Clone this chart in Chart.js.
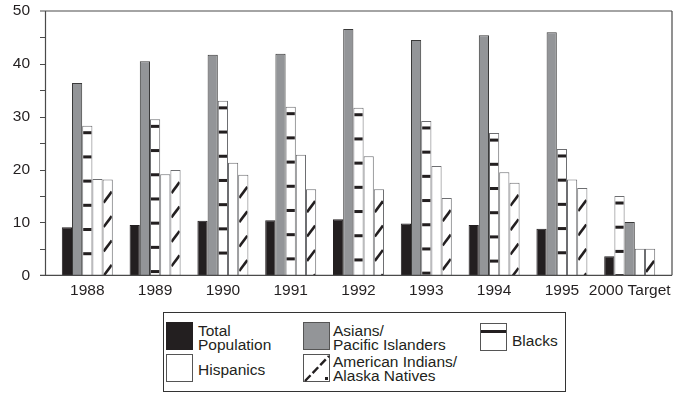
<!DOCTYPE html>
<html><head><meta charset="utf-8">
<script src="https://cdn.jsdelivr.net/npm/chart.js@4"></script>
<style>
html,body{margin:0;padding:0;background:#fff;}
#wrap{position:relative;width:684px;height:394px;overflow:hidden;}
#c{position:absolute;left:0;top:0;}
#legend{position:absolute;left:163px;top:312px;width:401px;height:78px;border:1px solid #333;background:#fff;font-family:"Liberation Sans",Arial,sans-serif;font-size:15.5px;color:#231f20;line-height:14px;}
.sw{position:absolute;width:27px;height:28px;box-sizing:border-box;border:1px solid #444;}
.lab{position:absolute;white-space:nowrap;}
</style></head>
<body>
<div id="wrap">
<canvas id="c" width="684" height="394"></canvas>
<div id="legend"></div>
</div>
<script>
// ---- data ----
const categories = ['1988','1989','1990','1991','1992','1993','1994','1995','2000 Target'];
const totalPopulation = [9.1, 9.5, 10.3, 10.4, 10.6, 9.8, 9.5, 8.8, 3.6];
const asiansPacificIslanders = [36.4, 40.5, 41.7, 41.9, 46.6, 44.5, 45.4, 46.0, 10.1];
const blacks = [28.3, 29.5, 33.0, 31.9, 31.7, 29.2, 26.9, 23.9, 15.0];
const hispanics = [18.2, 19.1, 21.3, 22.8, 22.5, 20.7, 19.5, 18.1, 5.0];
const americanIndiansAlaskaNatives = [18.1, 19.9, 19.0, 16.3, 16.3, 14.6, 17.5, 16.5, 5.0];
const yTickValues = [0, 10, 20, 30, 40, 50];
// order of the bars inside each group (the target group lists Blacks before Asians)
const normalOrder = ['total','asians','blacks','hispanics','amind'];
const targetOrder = ['total','blacks','asians','hispanics','amind'];

const series = {
  total:     {label:['Total','Population'], data: totalPopulation, fill:'#231f20', border:'#231f20', hatch:null},
  asians:    {label:['Asians/','Pacific Islanders'], data: asiansPacificIslanders, fill:'#939598', border:'#3a3a3a', hatch:null},
  blacks:    {label:['Blacks'], data: blacks, fill:'#ffffff', border:'#6d6e71', hatch:'bars'},
  hispanics: {label:['Hispanics'], data: hispanics, fill:'#ffffff', border:'#6d6e71', hatch:null},
  amind:     {label:['American Indians/','Alaska Natives'], data: americanIndiansAlaskaNatives, fill:'#ffffff', border:'#6d6e71', hatch:'diag'}
};
const orderFor = cat => cat === '2000 Target' ? targetOrder : normalOrder;

const datasets = [0,1,2,3,4].map(slot => {
  const keys = categories.map(c => orderFor(c)[slot]);
  return {
    label: 'slot' + slot,
    data: keys.map((k, i) => series[k].data[i]),
    backgroundColor: keys.map(k => series[k].fill),
    borderColor: keys.map(k => series[k].border),
    hatch: keys.map(k => series[k].hatch),
    borderWidth: 1,
    borderSkipped: 'start',
    categoryPercentage: 0.752,
    barPercentage: 1.0
  };
});

const INK = '#231f20';
const FRAME_INSET = 8.4;

const hatchPlugin = {
  id: 'hatch',
  afterDatasetsDraw(chart) {
    const ctx = chart.ctx;
    chart.data.datasets.forEach((ds, di) => {
      const meta = chart.getDatasetMeta(di);
      meta.data.forEach((bar, i) => {
        const kind = ds.hatch[i];
        if (!kind) return;
        const p = bar.getProps(['x','y','base','width'], true);
        const l = p.x - p.width/2, r = p.x + p.width/2;
        const top = Math.min(p.y, p.base), bot = Math.max(p.y, p.base);
        ctx.save();
        ctx.beginPath(); ctx.rect(l + 1, top + 1, p.width - 2, bot - top - 1); ctx.clip();
        ctx.fillStyle = INK; ctx.strokeStyle = INK;
        if (kind === 'bars') {
          for (let yy = top + 7; yy < bot + 1; yy += 24.2) ctx.fillRect(l, yy - 1.5, p.width, 3);
        } else {
          ctx.lineWidth = 2.6;
          for (let yy = top + 12; yy < bot + 2; yy += 24.4) {
            ctx.beginPath(); ctx.moveTo(l + 1, yy + 11); ctx.lineTo(r - 1, yy); ctx.stroke();
          }
        }
        ctx.restore();
      });
    });
  },
  afterDraw(chart) {
    const ctx = chart.ctx, a = chart.chartArea, y = chart.scales.y;
    const L = a.left - FRAME_INSET, R = a.right + FRAME_INSET;
    const T = y.getPixelForValue(50), B = y.getPixelForValue(0);
    ctx.save();
    ctx.strokeStyle = '#4a4a4a'; ctx.lineWidth = 1.2;
    ctx.beginPath();
    ctx.moveTo(L + 0.5, T); ctx.lineTo(L + 0.5, B);
    ctx.moveTo(R, T); ctx.lineTo(R, B);
    ctx.moveTo(L - 5, T); ctx.lineTo(R, T);
    ctx.moveTo(L - 5, B); ctx.lineTo(R, B);
    for (let v = 5; v < 50; v += 5) {
      const py = Math.round(y.getPixelForValue(v)) + 0.5;
      ctx.moveTo(L - 5, py); ctx.lineTo(L + 0.5, py);
    }
    ctx.stroke();
    ctx.restore();
  }
};

new Chart(document.getElementById('c'), {
  type: 'bar',
  data: { labels: categories, datasets },
  options: {
    responsive: false,
    animation: false,
    devicePixelRatio: 1,
    layout: { padding: { top: 11, right: 20.4, left: 0, bottom: 0 } },
    plugins: { legend: { display: false }, tooltip: { enabled: false } },
    scales: {
      x: {
        offset: true,
        grid: { display: false, drawTicks: false },
        border: { display: false },
        ticks: { color: INK, padding: 6, maxRotation: 0, autoSkip: false,
                 font: { family: '"Liberation Sans", Arial, sans-serif', size: 15.5 } },
        afterFit(s) { s.height = 394 - 275.3; }
      },
      y: {
        min: 0, max: 50,
        afterBuildTicks(s) { s.ticks = yTickValues.map(v => ({ value: v })); },
        grid: { display: false, drawTicks: true, tickLength: 23.4 },
        border: { display: false },
        ticks: { color: INK, padding: 0,
                 font: { family: '"Liberation Sans", Arial, sans-serif', size: 15.5 } },
        afterFit(s) { s.width = 53.4; s.paddingTop = 0; }
      }
    }
  },
  plugins: [hatchPlugin]
});

// ---- legend ----
const legend = document.getElementById('legend');
function add(html){ legend.insertAdjacentHTML('beforeend', html); }
function swatch(key, left, top) {
  const s = series[key];
  if (key === 'blacks') {
    add(`<div class="sw" style="left:${left}px;top:${top}px;background:#fff;border-color:#555"><div style="position:absolute;left:0;right:0;top:6px;height:3px;background:${INK}"></div></div>`);
  } else if (key === 'amind') {
    add(`<svg style="position:absolute;left:${left}px;top:${top}px" width="27" height="28"><rect x="0.5" y="0.5" width="26" height="27" fill="#fff" stroke="#555"/><line x1="2" y1="27" x2="26" y2="2" stroke="${INK}" stroke-width="2.4" stroke-dasharray="8,3"/><rect x="22" y="23" width="3" height="3" fill="${INK}"/></svg>`);
  } else {
    add(`<div class="sw" style="left:${left}px;top:${top}px;background:${s.fill};border-color:${key==='total'?INK:'#555'}"></div>`);
  }
}
function text(lines, left, top) {
  add(`<div class="lab" style="left:${left}px;top:${top}px">${lines.join('<br>')}</div>`);
}
swatch('total', 2, 9);      text(series.total.label, 34, 11);
swatch('hispanics', 2, 41); text(series.hispanics.label, 34, 50);
swatch('asians', 139, 9);   text(series.asians.label, 169, 11);
swatch('amind', 139, 41);   text(series.amind.label, 169, 42);
swatch('blacks', 316, 10);  text(series.blacks.label, 348, 21);
</script>
</body></html>
